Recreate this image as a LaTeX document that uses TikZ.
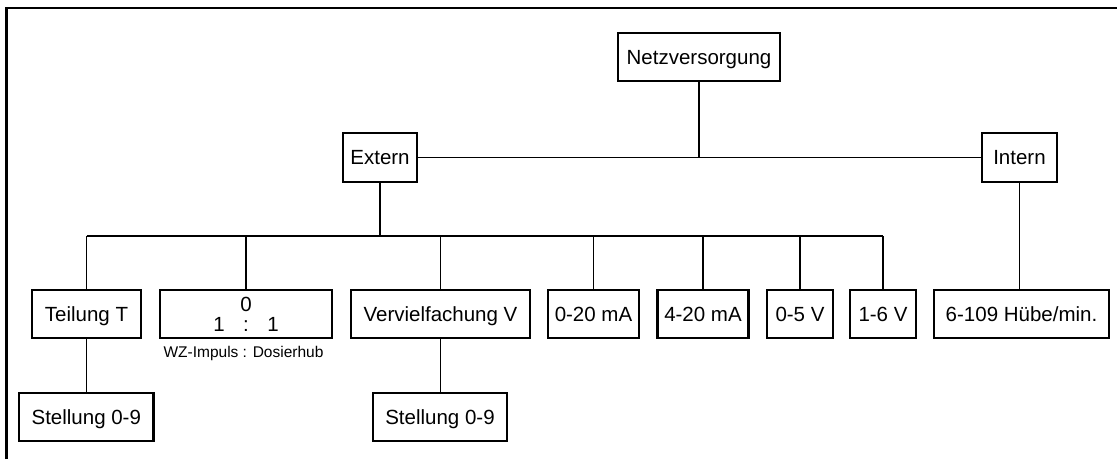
\documentclass[tikz,border=0pt]{standalone}
\usepackage{fontspec}
\setmainfont{Liberation Sans}
\begin{document}
\begin{tikzpicture}[x=1pt,y=-1pt,
  box/.style={draw=black,line width=2.3pt,inner sep=0pt,minimum height=48pt,font=\fontsize{20.5}{20}\selectfont,text depth=0pt},
  conn/.style={draw=black,line width=1.6pt},
  rtext/.style={inner sep=0pt,anchor=base,font=\fontsize{20.5}{20}\selectfont,text height=14.7pt,text depth=0pt},
  small/.style={inner sep=0pt,font=\fontsize{15.5}{15.5}\selectfont}]
\useasboundingbox (0,0) rectangle (1117,459);
\draw[line width=2.8pt] (6.5,459) -- (6.5,8) -- (1117,8);
% nodes
\node[box,minimum width=162pt] (netz) at (699,57) {Netzversorgung};
\node[box,minimum width=74.5pt,minimum height=49pt] (ext) at (380,157.5) {Extern};
\node[box,minimum width=75pt,minimum height=49pt] (int) at (1019.5,157.5) {Intern};
\node[box,minimum width=109pt] (teil) at (86.5,314) {Teilung T};
\node[box,minimum width=172pt] (ratio) at (246,314) {};
\node[rtext] (ratioA) at (246,311.5) {0};
\node[rtext] (ratioB) at (246,331) {1\hspace{18.5pt}:\hspace{18.5pt}1};
\node[box,minimum width=179pt] (verv) at (440.5,314) {Vervielfachung V};
\node[box,minimum width=91pt] (ma020) at (593.5,314) {0-20 mA};
\node[box,minimum width=91pt] (ma420) at (703,314) {4-20 mA};
\node[box,minimum width=65.5pt] (v05) at (800,314) {0-5 V};
\node[box,minimum width=66pt] (v16) at (883,314) {1-6 V};
\node[box,minimum width=175pt] (hub) at (1021.5,314) {6-109 Hübe/min.};
\node[box,minimum width=134.6pt] (st1) at (86.3,417) {Stellung 0-9};
\node[box,minimum width=134pt] (st2) at (440,417) {Stellung 0-9};
\node[small] (lbl) at (243.5,353) {WZ-Impuls : Dosierhub};
% connectors
\coordinate (bus) at (380,236);
\draw[conn] (netz.south) -- (netz.south |- ext.east);
\draw[conn] (ext.east) -- (int.west);
\draw[conn] (ext.south) -- (bus);
\draw[conn] (teil.north |- bus) -- (v16.north |- bus);
\draw[conn] (teil.north) -- (teil.north |- bus);
\draw[conn] (ratio.north) -- (ratio.north |- bus);
\draw[conn] (verv.north) -- (verv.north |- bus);
\draw[conn] (ma020.north) -- (ma020.north |- bus);
\draw[conn] (ma420.north) -- (ma420.north |- bus);
\draw[conn] (v05.north) -- (v05.north |- bus);
\draw[conn] (v16.north) -- (v16.north |- bus);
\draw[conn] (int.south) -- (int.south |- hub.north);
\draw[conn] (teil.south) -- (st1.north -| teil.south);
\draw[conn] (verv.south) -- (st2.north -| verv.south);
\end{tikzpicture}
\end{document}
